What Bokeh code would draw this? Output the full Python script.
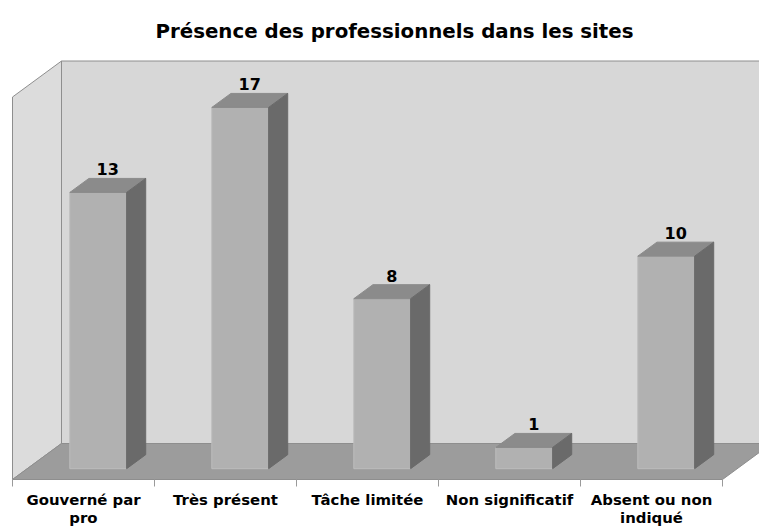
from bokeh.plotting import figure
from bokeh.models import Range1d, Label
from bokeh.core.properties import value
from bokeh.embed import file_html
from bokeh.resources import INLINE

# ---- data ----
categories = ["Gouverné par\npro", "Très présent", "Tâche limitée",
              "Non significatif", "Absent ou non\nindiqué"]
values = [13, 17, 8, 1, 10]
value_max = 18
title_text = "Présence des professionnels dans les sites"

# ---- geometry / style ----
W, H = 759, 526
CAT_PX = 142.0          # pixels per category
VAL_PX = 21.25          # pixels per value unit
DEPTH_PX = (49.0, 36.0) # oblique depth offset (right, up)
ORIGIN = (12.0, 47.0)   # frame pixel (from left, from bottom) of front-left-bottom corner
BAR_U = (0.3, 0.7)      # bar extent within a category
BAR_D = (0.3, 0.69)     # bar extent in depth
FONT = "DejaVu Sans"

DX = DEPTH_PX[0] / CAT_PX
DY = DEPTH_PX[1] / VAL_PX
x0 = -ORIGIN[0] / CAT_PX
y0 = -ORIGIN[1] / VAL_PX

p = figure(width=W, height=H,
           x_range=Range1d(x0, x0 + W / CAT_PX),
           y_range=Range1d(y0, y0 + H / VAL_PX),
           output_backend="svg", toolbar_location=None,
           x_axis_type=None, y_axis_type=None, min_border=0)
p.grid.visible = False
p.outline_line_color = None
p.background_fill_color = "white"
p.border_fill_color = "white"


def P(u, v, d):
    return (u + d * DX, v + d * DY)


def poly(pts):
    return [q[0] for q in pts], [q[1] for q in pts]


n = len(categories)

# back wall
bx, by = poly([P(0, 0, 1), P(n, 0, 1), P(n, value_max, 1), P(0, value_max, 1)])
p.patch(bx, by, fill_color="#d7d7d7", line_color="#8e8e8e", line_width=1)
# left wall
lx, ly = poly([P(0, 0, 0), P(0, value_max, 0), P(0, value_max, 1), P(0, 0, 1)])
p.patch(lx, ly, fill_color="#dcdcdc", line_color="#8e8e8e", line_width=1)
# floor
fx, fy = poly([P(0, 0, 0), P(n, 0, 0), P(n, 0, 1), P(0, 0, 1)])
p.patch(fx, fy, fill_color="#9c9c9c", line_color="#8e8e8e", line_width=1)

# category ticks
tick_len = 7 / VAL_PX
p.segment(x0=list(range(n + 1)), y0=[0] * (n + 1),
          x1=list(range(n + 1)), y1=[-tick_len] * (n + 1),
          line_color="#9a9a9a", line_width=1)

# bars
fronts, tops, sides = ([], []), ([], []), ([], [])
u0, u1 = BAR_U
df, db = BAR_D
for i, val in enumerate(values):
    a, b = i + u0, i + u1
    for store, pts in (
        (fronts, [P(a, 0, df), P(b, 0, df), P(b, val, df), P(a, val, df)]),
        (tops, [P(a, val, df), P(b, val, df), P(b, val, db), P(a, val, db)]),
        (sides, [P(b, 0, df), P(b, 0, db), P(b, val, db), P(b, val, df)]),
    ):
        xs, ys = poly(pts)
        store[0].append(xs)
        store[1].append(ys)

p.patches(fronts[0], fronts[1], fill_color="#b1b1b1", line_color="#bdbdbd", line_width=1)
p.patches(tops[0], tops[1], fill_color="#8b8b8b", line_color="#8b8b8b", line_width=1)
p.patches(sides[0], sides[1], fill_color="#6a6a6a", line_color="#6a6a6a", line_width=1)

# value labels
dm = (df + db) / 2
lab_x = [i + 0.5 + dm * DX for i in range(n)]
lab_y = [v + dm * DY for v in values]
p.text(x=lab_x, y=lab_y, text=[str(v) for v in values],
       text_font=value(FONT), text_font_style="bold", text_font_size="16px",
       text_color="black", text_align="center", text_baseline="middle",
       y_offset=-16)

# category labels
p.text(x=[i + 0.5 for i in range(n)], y=[0] * n, text=categories,
       text_font=value(FONT), text_font_style="bold", text_font_size="14.9px",
       text_color="black", text_align="center", text_baseline="top",
       y_offset=11, text_line_height=1.0)

# title
p.add_layout(Label(x=394, y=H - 31, x_units="screen", y_units="screen",
                   text=title_text, text_font=FONT, text_font_style="bold",
                   text_font_size="19.8px", text_color="black",
                   text_align="center", text_baseline="alphabetic"))

open("out.html", "w").write(file_html(p, INLINE))
